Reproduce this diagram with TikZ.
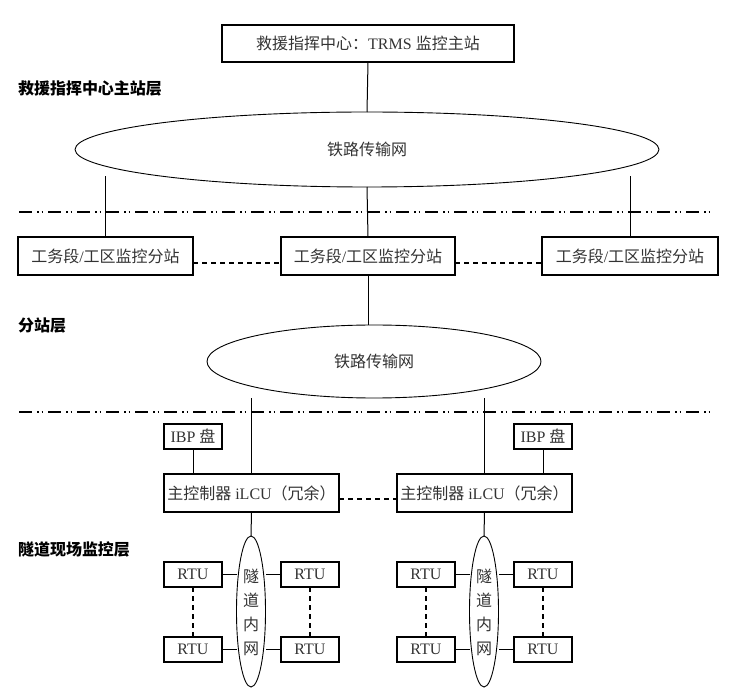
\documentclass[tikz,border=0pt]{standalone}
\usepackage{fontspec}
\setmainfont{Liberation Serif}
\newfontfamily\cjk{Noto Sans CJK SC}
\usetikzlibrary{shapes.geometric}
\begin{document}
\begin{tikzpicture}[x=1pt,y=-1pt,
  every node/.style={inner sep=0pt,outer sep=0pt},
  box/.style={draw,line width=1.2pt,text=black!80,font=\fontsize{16}{18}\selectfont},
  net/.style={draw,ellipse,line width=0.9pt,text=black!80,font=\fontsize{16}{18}\selectfont\cjk},
  layer/.style={anchor=west,font=\fontsize{16}{18}\selectfont\cjk\bfseries},
  conn/.style={line width=1pt},
  dconn/.style={line width=1.2pt,dash pattern=on 5pt off 4pt},
  sep/.style={line width=1.2pt,dash pattern=on 13pt off 5pt on 1.5pt off 3pt on 1.5pt off 5pt}]
\useasboundingbox (0,0) rectangle (731,700);
% top
\node[box,minimum width=292pt,minimum height=37pt] (top) at (368,43.5) {{\cjk 救援指挥中心：}TRMS {\cjk 监控主站}};
\node[layer] (L1) at (18,88) {救援指挥中心主站层};
\node[net,minimum width=584pt,minimum height=75pt] (n1) at (367,149.5) {铁路传输网};
\draw[conn] (top.south) -- (n1.north);
% separator 1
\coordinate (s1a) at (19,212); \coordinate (s1b) at (713,212);
\draw[sep] (s1a) -- (s1b);
% substations
\node[box,minimum width=175pt,minimum height=38pt] (b1) at (105.5,256) {{\cjk 工务段}/{\cjk 工区监控分站}};
\node[box,minimum width=174pt,minimum height=38pt] (b2) at (368,256) {{\cjk 工务段}/{\cjk 工区监控分站}};
\node[box,minimum width=176pt,minimum height=38pt] (b3) at (630,256) {{\cjk 工务段}/{\cjk 工区监控分站}};
\draw[conn] (n1.south) -- (b2.north);
\path (n1.center) ++(-263,0) coordinate (n1l);
\draw[conn] (b1.north) -- (b1.north |- n1.south west) ;
\draw[conn] (b3.north) -- (b3.north |- n1.south east) ;
\draw[dconn] ([yshift=-7pt]b1.east) -- ([yshift=-7pt]b2.west);
\draw[dconn] ([yshift=-7pt]b2.east) -- ([yshift=-7pt]b3.west);
\node[layer] (L2) at (18,326) {分站层};
\node[net,minimum width=334pt,minimum height=73pt] (n2) at (374,361.5) {铁路传输网};
\draw[conn] (b2.south) -- (b2.south |- n2.north);
% separator 2
\coordinate (s2a) at (19,412); \coordinate (s2b) at (713,412);
\draw[sep] (s2a) -- (s2b);
% ILCU groups
\node[box,minimum width=58pt,minimum height=25pt] (ibp1) at (193,436.5) {IBP {\cjk 盘}};
\node[box,minimum width=58pt,minimum height=25pt] (ibp2) at (543,436.5) {IBP {\cjk 盘}};
\node[box,minimum width=175pt,minimum height=38pt] (c1) at (251.5,493) {{\cjk 主控制器} iLCU{\cjk （冗余）}};
\node[box,minimum width=175pt,minimum height=38pt] (c2) at (484.5,493) {{\cjk 主控制器} iLCU{\cjk （冗余）}};
\draw[conn] (c1.north) -- (c1.north |- n2.south) ;
\draw[conn] (c2.north) -- (c2.north |- n2.south) ;
\draw[conn] (ibp1.south) -- (ibp1.south |- c1.north);
\draw[conn] (ibp2.south) -- (ibp2.south |- c2.north);
\draw[dconn] ([yshift=-6pt]c1.east) -- ([yshift=-6pt]c2.west);
\node[layer] (L3) at (18,549) {隧道现场监控层};
% tunnel nets
\foreach \g/\cx in {a/251,b/484}{
  \node[draw,ellipse,line width=0.9pt,minimum width=29pt,minimum height=151pt] (t\g) at (\cx,611.5) {};
  \node[text=black!80,font=\fontsize{16}{18}\selectfont\cjk,align=center] (tt\g) at (\cx,612) {隧\\[6pt]道\\[6pt]内\\[6pt]网};
  \node[box,minimum width=58pt,minimum height=25pt] (r1\g) at (\cx-58,574.5) {RTU};
  \node[box,minimum width=58pt,minimum height=25pt] (r2\g) at (\cx+59,574.5) {RTU};
  \node[box,minimum width=58pt,minimum height=25pt] (r3\g) at (\cx-58,649.5) {RTU};
  \node[box,minimum width=58pt,minimum height=25pt] (r4\g) at (\cx+59,649.5) {RTU};
  \draw[conn] (r1\g.east) -- (r1\g.east -| t\g.west);
  \draw[conn] (r3\g.east) -- (r3\g.east -| t\g.west);
  \draw[conn] (r2\g.west) -- (r2\g.west -| t\g.east);
  \draw[conn] (r4\g.west) -- (r4\g.west -| t\g.east);
  \draw[dconn] (r1\g.south) -- (r3\g.north);
  \draw[dconn] (r2\g.south) -- (r4\g.north);
}
\draw[conn] (c1.south) -- (ta.north);
\draw[conn] (c2.south) -- (tb.north);
\end{tikzpicture}
\end{document}
